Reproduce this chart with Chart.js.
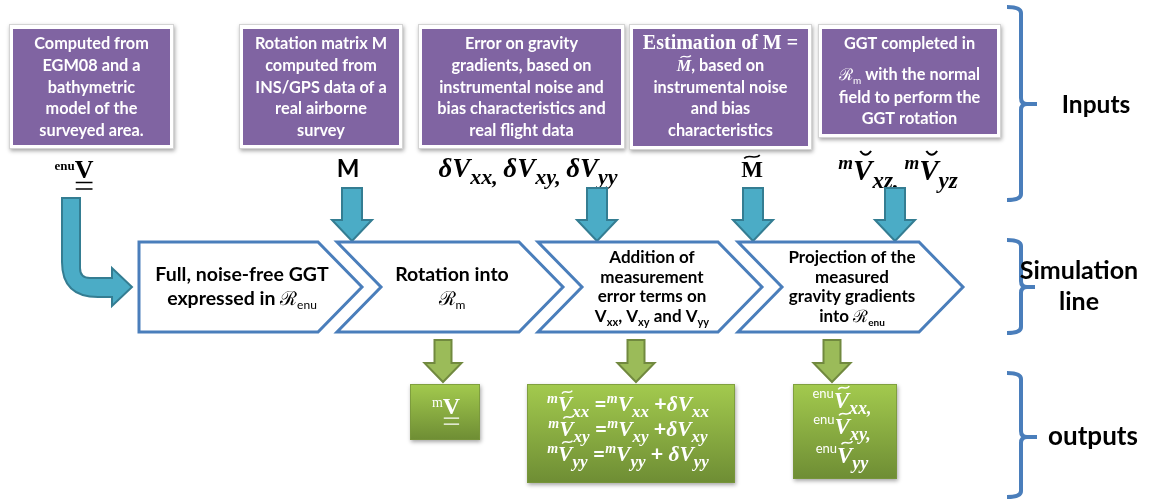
<!DOCTYPE html>
<html>
<head>
<meta charset="utf-8">
<script src="https://cdn.jsdelivr.net/npm/chart.js@4.4.1/dist/chart.umd.min.js"></script>
<style>
html,body{margin:0;padding:0;background:#fff;}
#wrap{width:1149px;height:502px;position:relative;}
</style>
</head>
<body>
<div id="wrap"><canvas id="c"></canvas></div>
<script>
// ---------- content (texts) ----------
const inputBoxTexts = [
  [[["Computed from","n"]],[["EGM08 and a","n"]],[["bathymetric","n"]],[["model of the","n"]],[["surveyed area.","n"]]],
  [[["Rotation matrix M","n"]],[["computed from","n"]],[["INS/GPS data of a","n"]],[["real airborne","n"]],[["survey","n"]]],
  [[["Error on gravity","n"]],[["gradients, based on","n"]],[["instrumental noise and","n"]],[["bias characteristics and","n"]],[["real flight data","n"]]],
  [[["Estimation of M =","c"]],[["M","mit"],[", based on","n"]],[["instrumental noise","n"]],[["and bias","n"]],[["characteristics","n"]]],
  [[["GGT completed in","n"]],[["\u211B","r"],["m","rs"],[" with the normal","n"]],[["field to perform the","n"]],[["GGT rotation","n"]]]
];
const inputSymbols = [
  [["enu","ubp"],["V","ubu"]],
  [["M","n"]],
  [["\u03B4V","mi"],["xx, ","mis"],["\u03B4V","mi"],["xy, ","mis"],["\u03B4V","mi"],["yy","mis"]],
  [["M","ubt"]],
  [["m","mip"],["V","mib"],["xz, ","mis"],["m","mip"],["V","mib"],["yz","mis"]]
];
const stepTexts = [
  [[["Full, noise-free GGT","n"]],[["expressed in ","n"],["\u211B","r"],["enu","rs"]]],
  [[["Rotation into","n"]],[["\u211B","r"],["m","rs"]]],
  [[["Addition of","n"]],[["measurement","n"]],[["error terms on","n"]],[["V","n"],["xx","ns"],[", V","n"],["xy","ns"],[" and V","n"],["yy","ns"]]],
  [[["Projection of the","n"]],[["measured","n"]],[["gravity gradients","n"]],[["into ","n"],["\u211B","r"],["enu","rsb"]]]
];
const outputTexts = [
  [[["m","upn"],["V","ubu"]]],
  [[["m","mip"],["V","mit"],["xx","mis"],[" =","n"],["m","mip"],["V","mi"],["xx","mis"],[" +","n"],["\u03B4V","mi"],["xx","mis"]],
   [["m","mip"],["V","mit"],["xy","mis"],[" =","n"],["m","mip"],["V","mi"],["xy","mis"],[" +","n"],["\u03B4V","mi"],["xy","mis"]],
   [["m","mip"],["V","mit"],["yy","mis"],[" =","n"],["m","mip"],["V","mi"],["yy","mis"],[" + ","n"],["\u03B4V","mi"],["yy","mis"]]],
  [[["enu","sp"],["V","mit"],["xx,","mis"]],[["enu","sp"],["V","mit"],["xy,","mis"]],[["enu","sp"],["V","mit"],["yy","mis"]]]
];
const sectionLabels = [["Inputs"],["Simulation","line"],["outputs"]];

// ---------- drawing helpers ----------
const SANS = 'Lato, "Open Sans", sans-serif';
const SERIF = '"Liberation Serif", "DejaVu Serif", serif';
const SCRIPT = '"DejaVu Serif", serif';

function styleOf(k, S){
  switch(k){
    case 'n':   return {font:`bold ${S}px ${SANS}`, dy:0};
    case 'ns':  return {font:`bold ${Math.round(S*0.62)}px ${SANS}`, dy:S*0.22};
    case 'c':   return {font:`bold ${Math.round(S*1.2)}px ${SERIF}`, dy:0};
    case 'mi':  return {font:`italic bold ${S}px ${SERIF}`, dy:0, it:true};
    case 'mit': return {font:`italic bold ${S}px ${SERIF}`, dy:0, it:true, acc:'tilde'};
    case 'mib': return {font:`italic bold ${S}px ${SERIF}`, dy:0, it:true, acc:'breve'};
    case 'mis': return {font:`italic bold ${Math.round(S*0.8)}px ${SERIF}`, dy:S*0.26};
    case 'mip': return {font:`italic bold ${Math.round(S*0.64)}px ${SERIF}`, dy:-S*0.38};
    case 'ubp': return {font:`bold ${Math.round(S*0.5)}px ${SERIF}`, dy:-S*0.3};
    case 'upn': return {font:`${Math.round(S*0.6)}px ${SERIF}`, dy:-S*0.3};
    case 'ub':  return {font:`bold ${S}px ${SERIF}`, dy:0};
    case 'ubt': return {font:`bold ${S}px ${SERIF}`, dy:0, acc:'tilde'};
    case 'ubu': return {font:`bold ${S}px ${SERIF}`, dy:0, acc:'dul'};
    case 'r':   return {font:`${S}px ${SCRIPT}`, dy:0};
    case 'rs':  return {font:`${Math.round(S*0.6)}px ${SANS}`, dy:S*0.22};
    case 'rsb': return {font:`bold ${Math.round(S*0.6)}px ${SANS}`, dy:S*0.22};
    case 'sp':  return {font:`${Math.round(S*0.58)}px ${SANS}`, dy:-S*0.45};
  }
  return {font:`bold ${S}px ${SANS}`, dy:0};
}

function drawRuns(ctx, runs, cx, base, S, color){
  ctx.save();
  ctx.textBaseline = 'alphabetic';
  ctx.textAlign = 'left';
  const items = runs.map(([t,k]) => { const st = styleOf(k,S); ctx.font = st.font; return {t, st, w: ctx.measureText(t).width}; });
  const total = items.reduce((a,b)=>a+b.w,0);
  let x = cx - total/2;
  ctx.fillStyle = color; ctx.strokeStyle = color;
  for(const it of items){
    ctx.font = it.st.font;
    ctx.fillText(it.t, x, base + it.st.dy);
    if(it.st.acc){
      const w = it.w;
      const cap = S*0.68;
      const ccx = x + w/2 + (it.st.it ? S*0.1 : 0);
      ctx.lineWidth = Math.max(1.2, S*0.07);
      ctx.beginPath();
      if(it.st.acc === 'tilde'){
        const y = base - cap - S*0.2, a = w*0.36, h = S*0.07;
        ctx.moveTo(ccx-a, y+h);
        ctx.bezierCurveTo(ccx-a*0.4, y-h*2.2, ccx+a*0.4, y+h*2.2, ccx+a, y-h);
      } else if(it.st.acc === 'breve'){
        const y = base - cap - S*0.22, a = w*0.28, h = S*0.1;
        ctx.moveTo(ccx-a, y-h);
        ctx.quadraticCurveTo(ccx, y+h*1.6, ccx+a, y-h);
      } else if(it.st.acc === 'dul'){
        ctx.lineWidth = Math.max(1, S*0.055);
        const y1 = base + S*0.17, y2 = base + S*0.42;
        ctx.moveTo(x+1, y1); ctx.lineTo(x+w-1, y1);
        ctx.moveTo(x+1, y2); ctx.lineTo(x+w-1, y2);
      }
      ctx.stroke();
    }
    x += it.w;
  }
  ctx.restore();
}

function brace(ctx, X, Y, x0, top, bot, mid, tip){
  const x1 = x0 + 14, r = 6;
  ctx.save();
  ctx.strokeStyle = '#4A7EBB'; ctx.lineWidth = 4; ctx.lineCap = 'butt'; ctx.lineJoin='round';
  ctx.beginPath();
  ctx.moveTo(X(x0), Y(top));
  ctx.quadraticCurveTo(X(x1), Y(top), X(x1), Y(top+r));
  ctx.lineTo(X(x1), Y(mid-r));
  ctx.quadraticCurveTo(X(x1), Y(mid), X(x1+r), Y(mid));
  ctx.lineTo(X(tip), Y(mid));
  ctx.moveTo(X(x1+r), Y(mid));
  ctx.quadraticCurveTo(X(x1), Y(mid), X(x1), Y(mid+r));
  ctx.lineTo(X(x1), Y(bot-r));
  ctx.quadraticCurveTo(X(x1), Y(bot), X(x0), Y(bot));
  ctx.stroke();
  ctx.restore();
}

function downArrow(ctx, X, Y, cx, top, headY, tipY, sw, hw, fill, stroke){
  ctx.save();
  ctx.beginPath();
  ctx.moveTo(X(cx-sw), Y(top));
  ctx.lineTo(X(cx+sw), Y(top));
  ctx.lineTo(X(cx+sw), Y(headY));
  ctx.lineTo(X(cx+hw), Y(headY));
  ctx.lineTo(X(cx), Y(tipY));
  ctx.lineTo(X(cx-hw), Y(headY));
  ctx.lineTo(X(cx-sw), Y(headY));
  ctx.closePath();
  ctx.fillStyle = fill; ctx.fill();
  ctx.strokeStyle = stroke; ctx.lineWidth = 2; ctx.lineJoin='miter'; ctx.stroke();
  ctx.restore();
}

const diagram = {
  id: 'diagram',
  afterDraw(chart){
    const ctx = chart.ctx;
    const X = v => chart.scales.x.getPixelForValue(v);
    const Y = v => chart.scales.y.getPixelForValue(v);

    // ---- input boxes ----
    const frames = [[9,24,174,149],[239,24,403,149],[418,24,625,149],[629,24,812,150],[818,24,1001,138]];
    const boxBase = [[49,71,93,114,136],[49,71,93,114,136],[49,71,93,114,136],[49,71,93,114,136],[49,80,103,124]];
    frames.forEach((f,i)=>{
      ctx.save();
      ctx.shadowColor = 'rgba(0,0,0,0.35)'; ctx.shadowBlur = 4; ctx.shadowOffsetX = 1; ctx.shadowOffsetY = 2;
      ctx.fillStyle = '#ffffff';
      ctx.fillRect(X(f[0]), Y(f[1]), X(f[2])-X(f[0]), Y(f[3])-Y(f[1]));
      ctx.restore();
      ctx.save();
      ctx.strokeStyle = '#d4d4d4'; ctx.lineWidth = 1;
      ctx.strokeRect(X(f[0])+0.5, Y(f[1])+0.5, X(f[2])-X(f[0])-1, Y(f[3])-Y(f[1])-1);
      ctx.fillStyle = '#8064A2';
      ctx.fillRect(X(f[0]+4), Y(f[1]+5), X(f[2]-4)-X(f[0]+4), Y(f[3]-4)-Y(f[1]+5));
      ctx.restore();
      const cx = (f[0]+f[2])/2;
      inputBoxTexts[i].forEach((ln,j)=> drawRuns(ctx, ln, X(cx), Y(boxBase[i][j]), 16.3, '#ffffff'));
    });

    // ---- input symbols ----
    const symPos = [[74,178,26],[348,177,24],[528,177,27],[752,177,23],[898,180,29]];
    inputSymbols.forEach((r,i)=> drawRuns(ctx, r, X(symPos[i][0]), Y(symPos[i][1]), symPos[i][2], '#000000'));

    // ---- teal arrows ----
    [352,597,753,895].forEach(cx => downArrow(ctx,X,Y,cx,188,220,241,10,20,'#4BACC6','#347D92'));
    // curved arrow
    ctx.save();
    ctx.beginPath();
    ctx.moveTo(X(62),Y(198)); ctx.lineTo(X(80),Y(198)); ctx.lineTo(X(80),Y(268));
    ctx.quadraticCurveTo(X(80),Y(278),X(90),Y(278));
    ctx.lineTo(X(112),Y(278)); ctx.lineTo(X(112),Y(268)); ctx.lineTo(X(132),Y(287));
    ctx.lineTo(X(112),Y(306)); ctx.lineTo(X(112),Y(297)); ctx.lineTo(X(98),Y(297));
    ctx.quadraticCurveTo(X(62),Y(297),X(62),Y(262));
    ctx.closePath();
    ctx.fillStyle='#4BACC6'; ctx.fill();
    ctx.strokeStyle='#347D92'; ctx.lineWidth=2; ctx.stroke();
    ctx.restore();

    // ---- chevrons ----
    const chev = [[139,362,false],[337,563,true],[538,762,true],[738,963,true]];
    const top=242, bot=332, mid=287, d=44;
    ctx.save();
    ctx.strokeStyle = '#4A7EBB'; ctx.lineWidth = 3; ctx.lineJoin = 'miter'; ctx.fillStyle='#ffffff';
    chev.forEach(c=>{
      ctx.beginPath();
      ctx.moveTo(X(c[0]),Y(top)); ctx.lineTo(X(c[1]-d),Y(top)); ctx.lineTo(X(c[1]),Y(mid));
      ctx.lineTo(X(c[1]-d),Y(bot)); ctx.lineTo(X(c[0]),Y(bot));
      if(c[2]) ctx.lineTo(X(c[0]+d),Y(mid));
      ctx.closePath(); ctx.fill(); ctx.stroke();
    });
    ctx.restore();
    const stepPos = [[242,[281,305],19.5],[452,[281,305],19.5],[652,[263,283,302,322],17],[852,[263,283,302,322],17]];
    stepTexts.forEach((lines,i)=> lines.forEach((ln,j)=> drawRuns(ctx, ln, X(stepPos[i][0]), Y(stepPos[i][1][j]), stepPos[i][2], '#000000')));

    // ---- green arrows ----
    [443,636,832].forEach(cx => downArrow(ctx,X,Y,cx,340,363,382,8.5,18.5,'#9BBB59','#71893F'));

    // ---- output boxes ----
    const gboxes = [[410,384,480,440],[527,384,735,483],[793,384,897,479]];
    gboxes.forEach(b=>{
      ctx.save();
      const g = ctx.createLinearGradient(0,Y(b[1]),0,Y(b[3]));
      g.addColorStop(0,'#A3CA4E'); g.addColorStop(1,'#6E8D34');
      ctx.shadowColor='rgba(0,0,0,0.35)'; ctx.shadowBlur=4; ctx.shadowOffsetX=1; ctx.shadowOffsetY=2;
      ctx.fillStyle = g;
      ctx.fillRect(X(b[0]),Y(b[1]),X(b[2])-X(b[0]),Y(b[3])-Y(b[1]));
      ctx.restore();
      ctx.save(); ctx.strokeStyle='rgba(120,150,60,0.8)'; ctx.lineWidth=1;
      ctx.strokeRect(X(b[0])+0.5,Y(b[1])+0.5,X(b[2])-X(b[0])-1,Y(b[3])-Y(b[1])-1); ctx.restore();
    });
    const outPos = [[[446,[414]],24],[[628,[411,436,461]],21.5],[[842,[408,434,463]],23]];
    outputTexts.forEach((lines,i)=> lines.forEach((ln,j)=> drawRuns(ctx, ln, X(outPos[i][0][0]), Y(outPos[i][0][1][j]), outPos[i][1], '#ffffff')));

    // ---- braces & section labels ----
    brace(ctx,X,Y,1007,7,200,104,1037);
    brace(ctx,X,Y,1007,240,333,287,1035);
    brace(ctx,X,Y,1007,373,497,437,1037);
    const labPos = [[1096,[113],24.5],[1079,[279,310],25],[1093,[445],26]];
    sectionLabels.forEach((lines,i)=> lines.forEach((t,j)=> drawRuns(ctx, [[t,'n']], X(labPos[i][0]), Y(labPos[i][1][j]), labPos[i][2], '#000000')));
  }
};

new Chart(document.getElementById('c'), {
  type: 'scatter',
  data: { datasets: [{ data: [], pointRadius: 0 }] },
  options: {
    responsive: true, maintainAspectRatio: false, animation: false,
    layout: { padding: 0 },
    scales: {
      x: { type:'linear', min:0, max:1149, display:false },
      y: { type:'linear', min:0, max:502, reverse:true, display:false }
    },
    plugins: { legend:{display:false}, tooltip:{enabled:false} }
  },
  plugins: [diagram]
});
</script>
</body>
</html>
